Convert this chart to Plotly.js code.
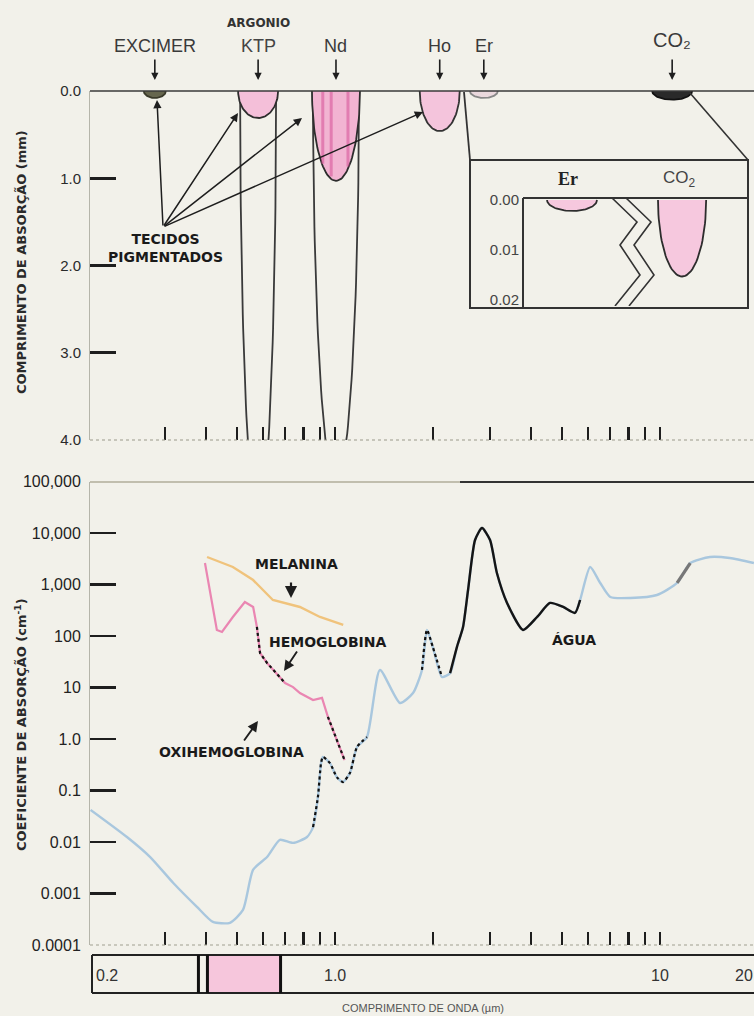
<!DOCTYPE html>
<html><head><meta charset="utf-8">
<script src="https://cdn.plot.ly/plotly-3.0.1.min.js"></script>
<style>html,body{margin:0;padding:0;background:#f2f1ea}</style>
</head><body><div id="chart" style="width:754px;height:1016px"></div>
<script>
// ================= DATA =================
// lasers (top panel)
const laserNames = ['EXCIMER', 'ARGONIO / KTP', 'Nd', 'Ho', 'Er', 'CO₂'];
const laserWavelength = [0.279, 0.58, 1.007, 2.10, 2.87, 10.9];       // µm
const pigmentDepth = [0.08, 0.31, 1.03, 0.46, 0.08, 0.10];             // mm (pigmented tissue)
const nonPigmentDepth = [null, 4.9, 4.5, null, null, null];           // mm (deep curves)
// inset (Er and CO2 detail), depth in mm
const insetNames = ['Er', 'CO₂'];
const insetDepth = [0.0022, 0.0153];
const insetTicks = [0.00, 0.01, 0.02];
const insetTickText = ['0.00', '0.01', '0.02'];

// bottom panel: absorption coefficient (cm^-1) vs wavelength (µm)
const waterX = [0.177,0.229,0.270,0.318,0.376,0.421,0.475,0.521,0.560,0.618,
  0.677,0.743,0.820,0.856,0.886,0.906,0.918,0.965,1.014,1.058,
  1.112,1.169,1.254,1.375,1.585,1.738,1.852,1.919,2.000,2.133,
  2.260,2.372,2.477,2.567,2.697,2.834,3.000,3.149,3.384,3.790,
  4.186,4.588,5.034,5.473,5.677,6.097,6.548,7.033,8.112,9.785,
  11.29,12.39,14.25,16.40,19.45];
const waterY = [0.042,0.0125,0.0051,0.0016,0.00055,0.00028,0.00027,0.00048,0.0029,0.0051,
  0.011,0.0096,0.0125,0.0195,0.075,0.34,0.45,0.34,0.18,0.146,
  0.22,0.70,1.09,21.9,5.0,7.8,21.9,131,61,16,
  19,61,150,782,7310,12500,7310,1670,438,131,
  234,438,366,280,500,2190,1070,571,547,625,
  1070,2610,3420,3270,2610];
const hbX = [0.398,0.433,0.449,0.485,0.528,0.560,0.575,0.588,0.618,0.677,0.702,0.743,0.780,0.856,0.912,0.951,0.986,1.04,1.07];
const hbY = [2610,131,120,234,457,366,150,46.8,29.9,15.3,12.2,10.2,7.8,5.7,6.3,2.7,1.5,0.61,0.39];
const oxyX = [0.575,0.588,0.618,0.677,0.702,null,0.951,0.986,1.04,1.07];
const oxyY = [150,46.8,29.9,15.3,12.2,null,2.7,1.5,0.61,0.39];
const melX = [0.404,0.485,0.560,0.644,0.780,0.899,1.06];
const melY = [3420,2190,1220,500,366,234,164];

const topTickVals = [0,1,2,3,4];
const topTickText = ['0.0','1.0','2.0','3.0','4.0'];
const botTickVals = [1e-4,1e-3,1e-2,1e-1,1,10,100,1e3,1e4,1e5];
const botTickText = ['0.0001','0.001','0.01','0.1','1.0','10','100','1,000','10,000','100,000'];
const xMinorTicks = [0.3,0.4,0.5,0.6,0.7,0.8,0.9,1,2,3,4,5,6,7,8,9,10];
const stripVals = [0.2, 1.0, 10, 20];
const stripText = ['0.2', '1.0', '10', '20'];
const visibleBand = [0.38, 0.68];   // µm, pink band in the wavelength strip

// ================= GEOMETRY / STYLE =================
const W = 754, H = 1016;
const X0PX = 335, DEC = 325;                  // pixel of 1 µm, pixels per decade
const um2px = u => X0PX + DEC * Math.log10(u);
const px2um = p => Math.pow(10, (p - X0PX) / DEC);
const fx = p => p / W, fy = p => 1 - p / H;
const FONT = 'Liberation Sans, Arial, sans-serif';
const BOLD = 'DejaVu Sans, Liberation Sans, sans-serif';
const pigHalfPx = [11, 20, 24, 20, 14, 20];
const deepHalfPx = [0, 18, 23, 0, 0, 0];
const pigFill = ['#66664e', '#f4bfd9', '#f2b4d2', '#f4c4dc', '#ead8dd', '#2a2a2a'];
const pigLine = ['#3a3a2a', '#2d2d2d', '#2d2d2d', '#333', '#888', '#111'];

function halfEllipse(cLog, hwLog, depth, n) {
  const xs = [], ys = [];
  for (let i = 0; i <= n; i++) {
    const t = Math.PI * i / n;
    xs.push(Math.pow(10, cLog + hwLog * Math.cos(t)));
    ys.push(depth * Math.sin(t));
  }
  return {xs, ys};
}

const traces = [];
// ----- top panel -----
laserWavelength.forEach((wl, i) => {
  const c = Math.log10(wl);
  if (nonPigmentDepth[i]) {
    const e = halfEllipse(c, deepHalfPx[i] / DEC, nonPigmentDepth[i], 80);
    traces.push({x: e.xs, y: e.ys, xaxis: 'x', yaxis: 'y', mode: 'lines',
      line: {color: '#3a3a3a', width: 1.8}, hoverinfo: 'skip'});
  }
  const e = halfEllipse(c, pigHalfPx[i] / DEC, pigmentDepth[i], 60);
  traces.push({x: e.xs, y: e.ys, xaxis: 'x', yaxis: 'y', mode: 'lines', fill: 'toself',
    fillcolor: pigFill[i], line: {color: pigLine[i], width: 1.8}, hoverinfo: 'skip'});
  if (i === 2) { // darker stripes inside the Nd shape
    [-0.55, -0.2, 0.5].forEach(f => {
      const d = pigmentDepth[i] * Math.sqrt(1 - f * f) * 0.97;
      const xx = Math.pow(10, c + f * pigHalfPx[i] / DEC);
      traces.push({x: [xx, xx], y: [0.01, d], xaxis: 'x', yaxis: 'y', mode: 'lines',
        line: {color: 'rgba(214,80,150,0.55)', width: 3}, hoverinfo: 'skip'});
    });
  }
});

// ----- inset -----
const insetCenter = [0.218, 0.707], insetHalf = [0.111, 0.107];
insetDepth.forEach((d, i) => {
  const xs = [], ys = [];
  for (let k = 0; k <= 50; k++) {
    const t = Math.PI * k / 50;
    xs.push(insetCenter[i] + insetHalf[i] * Math.cos(t));
    ys.push(d * Math.sin(t));
  }
  traces.push({x: xs, y: ys, xaxis: 'x3', yaxis: 'y3', mode: 'lines', fill: 'toself',
    fillcolor: '#f6c8de', line: {color: '#2d2d2d', width: 1.8}, hoverinfo: 'skip'});
});
// zigzag break
const zz = [[612,198],[637,222],[620,245],[640,275],[615,306]];
[0, 14].forEach(off => {
  traces.push({x: zz.map(p => (p[0] + off - 523) / 225), y: zz.map(p => (p[1] - 200) / 50 * 0.01),
    xaxis: 'x3', yaxis: 'y3', mode: 'lines', line: {color: '#333', width: 1.6}, hoverinfo: 'skip'});
});

// ----- bottom panel -----
traces.push({x: waterX, y: waterY, xaxis: 'x2', yaxis: 'y2', mode: 'lines',
  line: {color: '#a9c7de', width: 2.4, shape: 'spline', smoothing: 0.6}, hoverinfo: 'skip'});
const darkSpans = [[0.85, 1.26, 'dot', '#111', 2.2], [1.84, 2.14, 'dot', '#111', 2.2],
                   [2.25, 5.7, 'solid', '#151515', 2.4], [11.0, 12.5, 'solid', '#777', 3.2]];
darkSpans.forEach(s => {
  const xs = [], ys = [];
  waterX.forEach((v, k) => { if (v >= s[0] && v <= s[1]) { xs.push(v); ys.push(waterY[k]); } });
  traces.push({x: xs, y: ys, xaxis: 'x2', yaxis: 'y2', mode: 'lines',
    line: {color: s[3], width: s[4], dash: s[2], shape: 'spline', smoothing: 0.6}, hoverinfo: 'skip'});
});
traces.push({x: melX, y: melY, xaxis: 'x2', yaxis: 'y2', mode: 'lines',
  line: {color: '#f0c37c', width: 2.4}, hoverinfo: 'skip'});
traces.push({x: hbX, y: hbY, xaxis: 'x2', yaxis: 'y2', mode: 'lines',
  line: {color: '#ea86b2', width: 2.2}, hoverinfo: 'skip'});
traces.push({x: oxyX, y: oxyY, xaxis: 'x2', yaxis: 'y2', mode: 'lines', connectgaps: false,
  line: {color: '#151515', width: 2.2, dash: 'dot'}, hoverinfo: 'skip'});

// ================= LAYOUT =================
const xr = [Math.log10(px2um(90)), Math.log10(px2um(754))];
const xcommon = {type: 'log', range: xr, domain: [fx(90), 1], tickvals: xMinorTicks,
  showticklabels: false, ticks: 'inside', ticklen: 13, tickwidth: 2.2, tickcolor: '#1e1e1e',
  showgrid: false, zeroline: false, showline: false, fixedrange: true};
const ycommon = {ticks: 'inside', ticklen: 26, tickwidth: 2.6, tickcolor: '#1e1e1e',
  showgrid: false, zeroline: false, showline: true, linecolor: '#b5b5aa', linewidth: 1,
  tickfont: {family: FONT, size: 15, color: '#2a2a2a'}, ticklabelstandoff: 5, fixedrange: true};

const ann = [];
const A = (o) => ann.push(Object.assign({showarrow: false, xref: 'paper', yref: 'paper',
  xanchor: 'center', yanchor: 'middle',
  font: {family: FONT, size: 18, color: '#444'}}, o));
const ARROW = (tx, ty, ax, ay, w, sz) => ann.push({x: fx(tx), y: fy(ty), xref: 'paper', yref: 'paper',
  text: '', showarrow: true, ax: ax, ay: ay, arrowhead: 2, arrowsize: sz || 1.1, arrowwidth: w || 1.6, arrowcolor: '#1e1e1e'});
// laser labels and down arrows
laserNames.forEach((n, i) => {
  const px = um2px(laserWavelength[i]);
  const parts = n.split(' / ');
  if (parts.length > 1) {
    A({x: fx(px), y: fy(23), text: '<b>' + parts[0] + '</b>', font: {family: BOLD, size: 12, color: '#333'}});
    A({x: fx(px), y: fy(46), text: parts[1]});
  } else {
    A({x: fx(px), y: fy(i === 5 ? 40 : 46), text: n, font: {family: FONT, size: i === 5 ? 20 : 18, color: '#3a3a3a'}});
  }
  ARROW(px, 80, 0, -22, 1.6, 0.9);
});
// pigmented tissue label and arrows
A({x: fx(165), y: fy(248), text: '<b>TECIDOS<br>PIGMENTADOS</b>', font: {family: BOLD, size: 14, color: '#1a1a1a'}});
[[157, 100], [238, 113], [302, 118], [423, 112]].forEach(t => ARROW(t[0], t[1], 163 - t[0], 227 - t[1], 1.5));
// inset header labels
A({x: fx(568), y: fy(179), text: '<b>Er</b>', font: {family: 'Liberation Serif, serif', size: 18, color: '#222'}});
A({x: fx(679), y: fy(179), text: 'CO<sub>2</sub>', font: {family: FONT, size: 17, color: '#444'}});
// bottom labels
A({x: fx(296), y: fy(564), text: '<b>MELANINA</b>', font: {family: BOLD, size: 14, color: '#1a1a1a'}});
ARROW(291, 598, 0, -17, 2.2);
A({x: fx(328), y: fy(642), text: '<b>HEMOGLOBINA</b>', font: {family: BOLD, size: 14, color: '#1a1a1a'}});
ARROW(284, 671, 14, -21, 1.9);
A({x: fx(231), y: fy(752), text: '<b>OXIHEMOGLOBINA</b>', font: {family: BOLD, size: 14, color: '#1a1a1a'}});
ARROW(258, 721, -15, 21, 1.9);
A({x: fx(574), y: fy(640), text: '<b>ÁGUA</b>', font: {family: BOLD, size: 14, color: '#1a1a1a'}});
// axis titles
A({x: fx(21), y: fy(262), text: '<b>COMPRIMENTO DE ABSORÇÃO (mm)</b>', textangle: -90,
  font: {family: BOLD, size: 13, color: '#2a2a2a'}});
A({x: fx(21), y: fy(725), text: '<b>COEFICIENTE DE ABSORÇÃO (cm<sup>-1</sup>)</b>', textangle: -90,
  font: {family: BOLD, size: 13, color: '#2a2a2a'}});
A({x: fx(423), y: fy(1008), text: 'COMPRIMENTO DE ONDA (µm)', font: {family: FONT, size: 11, color: '#555'}});
// strip labels
stripVals.forEach((v, i) => {
  const px = i === 0 ? 94 : (i === 3 ? 733 : um2px(v));
  A({x: fx(px), y: fy(975), text: stripText[i], xanchor: (i === 0 || i === 3) ? 'left' : 'center',
    font: {family: FONT, size: 16, color: '#333'}});
});

const shapes = [];
const L = (x0, y0, x1, y1, color, width, dash) => shapes.push({type: 'line', xref: 'paper', yref: 'paper',
  x0: fx(x0), y0: fy(y0), x1: fx(x1), y1: fy(y1), line: {color, width, dash: dash || 'solid'}});
// panel borders
L(90, 91, 754, 91, '#3a3a3a', 1.6);
L(90, 440, 754, 440, '#9a9a8a', 1.2, 'dot');
L(90, 482, 754, 482, '#b0ad9a', 1.6);
L(460, 482, 754, 482, '#333', 2);
L(90, 945, 754, 945, '#a0a090', 1.2, 'dot');
// inset boxes & connectors
shapes.push({type: 'rect', xref: 'paper', yref: 'paper', x0: fx(470), y0: fy(308), x1: fx(748), y1: fy(160),
  line: {color: '#333', width: 2}, fillcolor: 'rgba(0,0,0,0)'});
L(523, 198, 748, 198, '#333', 2);
L(523, 198, 523, 308, '#333', 2);
L(464, 92, 470, 160, '#333', 1.8);
L(690, 93, 748, 160, '#333', 1.6);
// wavelength strip
shapes.push({type: 'rect', xref: 'paper', yref: 'paper', x0: fx(um2px(visibleBand[0]) + 8), x1: fx(um2px(visibleBand[1])),
  y0: fy(993), y1: fy(956), fillcolor: '#f6c6dc', line: {width: 0}});
L(92, 955, 754, 955, '#222', 2.2);
L(92, 993, 754, 993, '#222', 2.2);
L(92, 955, 92, 993, '#222', 2);
L(um2px(visibleBand[0]), 955, um2px(visibleBand[0]), 993, '#111', 3);
L(um2px(visibleBand[0]) + 9, 955, um2px(visibleBand[0]) + 9, 993, '#111', 3);
L(um2px(visibleBand[1]), 955, um2px(visibleBand[1]), 993, '#111', 3);

const layout = {
  width: W, height: H, margin: {l: 0, r: 0, t: 0, b: 0},
  paper_bgcolor: '#f2f1ea', plot_bgcolor: 'rgba(0,0,0,0)', showlegend: false,
  font: {family: FONT},
  xaxis: Object.assign({}, xcommon, {anchor: 'y'}),
  yaxis: Object.assign({}, ycommon, {domain: [fy(440), fy(91)], range: [4, 0],
    tickvals: topTickVals, ticktext: topTickText, anchor: 'x'}),
  xaxis2: Object.assign({}, xcommon, {anchor: 'y2'}),
  yaxis2: Object.assign({}, ycommon, {domain: [fy(945), fy(481.5)], type: 'log', range: [-4, 5],
    tickvals: botTickVals, ticktext: botTickText, anchor: 'x2',
    tickfont: {family: FONT, size: 16, color: '#222'}}),
  xaxis3: {domain: [fx(523), fx(748)], range: [0, 1], anchor: 'y3', showgrid: false, zeroline: false,
    showticklabels: false, ticks: '', showline: false, fixedrange: true},
  yaxis3: {domain: [fy(306), fy(198)], range: [0.0212, -0.0004], anchor: 'x3', tickvals: insetTicks,
    ticktext: insetTickText, ticks: '', showgrid: false, zeroline: false, showline: false,
    tickfont: {family: FONT, size: 15, color: '#444'}, ticklabelstandoff: 3, fixedrange: true},
  annotations: ann, shapes: shapes
};
Plotly.newPlot('chart', traces, layout, {staticPlot: true, displayModeBar: false});
</script></body></html>
